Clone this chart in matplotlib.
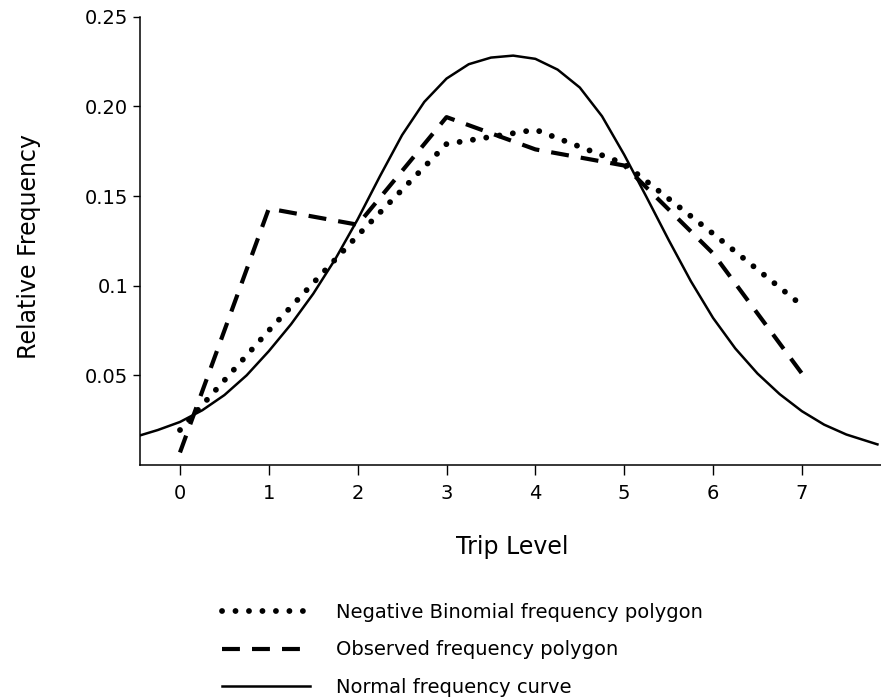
import matplotlib
matplotlib.use("Agg")
import matplotlib.pyplot as plt

# ---- data ----
trip_levels = [0, 1, 2, 3, 4, 5, 6, 7]
observed = [0.007, 0.143, 0.134, 0.194, 0.176, 0.167, 0.118, 0.051]
neg_binomial = [0.0195, 0.075, 0.128, 0.179, 0.187, 0.168, 0.129, 0.089]

normal_x = [-0.45, -0.25, 0.0, 0.25, 0.5, 0.75, 1.0, 1.25, 1.5, 1.75, 2.0, 2.25,
            2.5, 2.75, 3.0, 3.25, 3.5, 3.75, 4.0, 4.25, 4.5, 4.75, 5.0, 5.25,
            5.5, 5.75, 6.0, 6.25, 6.5, 6.75, 7.0, 7.25, 7.5, 7.85]
normal_y = [0.0165, 0.0195, 0.024, 0.0305, 0.039, 0.050, 0.0635, 0.0785, 0.0955,
            0.115, 0.137, 0.161, 0.184, 0.2025, 0.2155, 0.2235, 0.2272, 0.2283,
            0.2265, 0.2205, 0.2105, 0.1945, 0.173, 0.1495, 0.1255, 0.1025, 0.082,
            0.065, 0.051, 0.0395, 0.030, 0.0225, 0.017, 0.0115]

y_ticks = [0.05, 0.1, 0.15, 0.20, 0.25]
y_tick_labels = ["0.05", "0.1", "0.15", "0.20", "0.25"]
x_ticks = [0, 1, 2, 3, 4, 5, 6, 7]
x_tick_labels = ["0", "1", "2", "3", "4", "5", "6", "7"]

labels = ["Negative Binomial frequency polygon",
          "Observed frequency polygon",
          "Normal frequency curve"]

# ---- figure ----
fig = plt.figure(figsize=(8.81, 7.0), dpi=100)
ax = fig.add_axes([140 / 881, 1 - 465 / 700, 741 / 881, (465 - 16.7) / 700])

l_dot, = ax.plot(trip_levels, neg_binomial, color="black", lw=4.2,
                 linestyle=(0, (0.01, 2.3)), dash_capstyle="round",
                 solid_capstyle="round", label=labels[0])
l_dash, = ax.plot(trip_levels, observed, color="black", lw=3.0,
                  linestyle=(0, (4.3, 2.9)), dash_capstyle="butt",
                  label=labels[1])
l_norm, = ax.plot(normal_x, normal_y, color="black", lw=1.8,
                  solid_joinstyle="round", label=labels[2])

ax.set_xlim(-0.45, 7.89)
ax.set_ylim(0, 0.25)

for s in ["top", "right"]:
    ax.spines[s].set_visible(False)
for s in ["left", "bottom"]:
    ax.spines[s].set_linewidth(1.1)

ax.set_xticks(x_ticks)
ax.set_xticklabels(x_tick_labels)
ax.set_yticks(y_ticks)
ax.set_yticklabels(y_tick_labels)
ax.tick_params(axis="x", direction="out", length=7, width=1.0, pad=7, labelsize=14)
ax.tick_params(axis="y", direction="out", length=5, width=1.0, pad=3.5, labelsize=14)

ax.set_xlabel("Trip Level", fontsize=17)
ax.xaxis.set_label_coords((512 - 140) / 741, (465 - 535) / 448)
ax.set_ylabel("Relative Frequency", fontsize=17)
ax.yaxis.set_label_coords((41 - 140) / 741, (465 - 247) / 448)

fig.legend(handles=[l_dot, l_dash, l_norm], labels=labels,
           loc="upper left", bbox_to_anchor=(222 / 881, 1 - 603 / 700),
           bbox_transform=fig.transFigure, frameon=False,
           fontsize=14, handlelength=4.5, handletextpad=1.35,
           labelspacing=0.95, borderpad=0, borderaxespad=0)

fig.savefig("out.png", dpi=100)
